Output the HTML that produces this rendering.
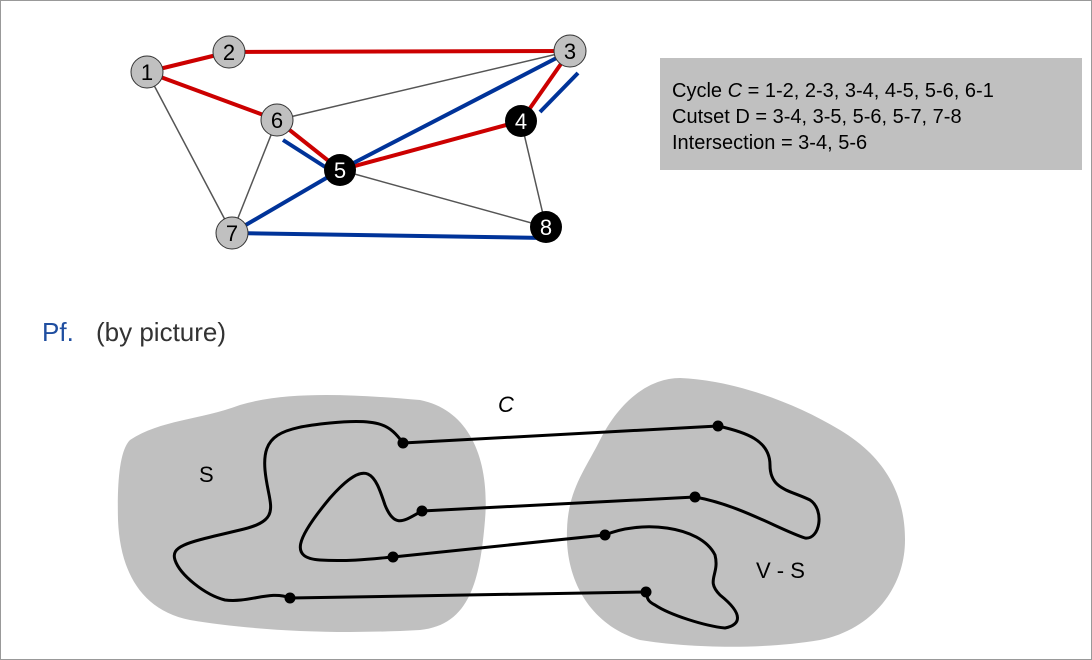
<!DOCTYPE html>
<html><head><meta charset="utf-8"><style>
body{margin:0;width:1092px;height:660px;background:#fff;overflow:hidden}
svg{display:block}
text{font-family:"Liberation Sans",sans-serif}
</style></head><body>
<svg width="1092" height="660">
<rect x="0.5" y="0.5" width="1091" height="659" fill="none" stroke="#999"/>
<g stroke-linecap="butt">
<line x1="147" y1="72" x2="232" y2="233" stroke="#555" stroke-width="1.5"/>
<line x1="277" y1="120" x2="232" y2="233" stroke="#555" stroke-width="1.5"/>
<line x1="277" y1="120" x2="570" y2="51" stroke="#555" stroke-width="1.5"/>
<line x1="340" y1="170" x2="546" y2="227" stroke="#555" stroke-width="1.5"/>
<line x1="521" y1="121" x2="546" y2="227" stroke="#555" stroke-width="1.5"/>
<line x1="147" y1="72" x2="229" y2="52" stroke="#c00" stroke-width="4"/>
<line x1="229" y1="52" x2="570" y2="51" stroke="#c00" stroke-width="4"/>
<line x1="147" y1="72" x2="277" y2="120" stroke="#c00" stroke-width="4"/>
<line x1="277" y1="120" x2="340" y2="170" stroke="#c00" stroke-width="4"/>
<line x1="340" y1="170" x2="521" y2="121" stroke="#c00" stroke-width="4"/>
<line x1="570" y1="51" x2="521" y2="121" stroke="#c00" stroke-width="4"/>
<line x1="283" y1="140" x2="333" y2="172" stroke="#039" stroke-width="4"/>
<line x1="578" y1="73" x2="540" y2="112" stroke="#039" stroke-width="4"/>
<line x1="570" y1="51" x2="340" y2="170" stroke="#039" stroke-width="4"/>
<line x1="340" y1="170" x2="232" y2="233" stroke="#039" stroke-width="4"/>
<line x1="232" y1="233" x2="546" y2="238" stroke="#039" stroke-width="4"/>
</g>
<g font-size="22" text-anchor="middle">
<g><circle cx="147" cy="72" r="16" fill="#c0c0c0" stroke="#333"/><text x="147" y="80">1</text></g>
<g><circle cx="229" cy="52" r="16" fill="#c0c0c0" stroke="#333"/><text x="229" y="60">2</text></g>
<g><circle cx="570" cy="51" r="16" fill="#c0c0c0" stroke="#333"/><text x="570" y="59">3</text></g>
<g><circle cx="277" cy="120" r="16" fill="#c0c0c0" stroke="#333"/><text x="277" y="128">6</text></g>
<g><circle cx="232" cy="233" r="16" fill="#c0c0c0" stroke="#333"/><text x="232" y="241">7</text></g>
<g><circle cx="521" cy="121" r="16" fill="#000"/><text x="521" y="129" fill="#fff">4</text></g>
<g><circle cx="340" cy="170" r="16" fill="#000"/><text x="340" y="178" fill="#fff">5</text></g>
<g><circle cx="546" cy="227" r="16" fill="#000"/><text x="546" y="235" fill="#fff">8</text></g>
</g>
<g>
<rect x="660" y="58" width="422" height="112" fill="#c0c0c0"/>
<text x="672" y="97" font-size="20">Cycle  <tspan font-style="italic">C</tspan> = 1-2, 2-3, 3-4, 4-5, 5-6, 6-1</text>
<text x="672" y="123" font-size="20">Cutset D = 3-4, 3-5, 5-6, 5-7, 7-8</text>
<text x="672" y="149" font-size="20">Intersection = 3-4, 5-6</text>
</g>
<text x="42" y="341" font-size="26" fill="#1f4ea0">Pf.</text>
<text x="96" y="341" font-size="26" fill="#333">(by picture)</text>
<path fill="#c0c0c0" d="M130,440 C160,420 200,420 240,405 C290,390 360,395 420,400 C470,410 490,460 485,520 C480,580 470,625 420,630 C330,635 250,630 190,620 C140,610 120,570 118,520 C117,480 120,450 130,440Z"/>
<path fill="#c0c0c0" d="M600,440 C620,400 650,378 680,378 C730,380 790,400 840,430 C890,460 905,500 905,540 C905,590 870,630 820,640 C760,650 690,648 640,640 C590,625 565,580 567,530 C568,490 585,470 600,440Z"/>
<g fill="none" stroke="#000" stroke-width="3">
<path d="M403,443 C390,425 380,418 330,423 C280,428 262,435 265,470 C268,505 285,520 240,530 C190,542 170,545 175,560 C180,575 205,595 225,600 C250,603 270,590 290,598"/>
<path d="M422,511 C405,520 395,530 385,505 C375,475 368,455 330,498 C295,540 290,558 320,560 C350,562 380,558 393,557"/>
<path d="M718,426 C745,432 770,440 770,465 C770,490 790,490 810,500 C825,510 820,540 805,538 C780,530 740,505 695,497"/>
<path d="M605,535 C640,520 700,525 715,555 C720,575 705,580 720,595 C745,615 740,625 725,628 C705,626 670,615 655,605 C645,600 648,596 646,592"/>
<line x1="403" y1="443" x2="718" y2="426"/>
<line x1="422" y1="511" x2="695" y2="497"/>
<line x1="393" y1="557" x2="605" y2="535"/>
<line x1="290" y1="598" x2="646" y2="592"/>
</g>
<g fill="#000">
<circle cx="403" cy="443" r="5.5"/><circle cx="718" cy="426" r="5.5"/>
<circle cx="422" cy="511" r="5.5"/><circle cx="695" cy="497" r="5.5"/>
<circle cx="393" cy="557" r="5.5"/><circle cx="605" cy="535" r="5.5"/>
<circle cx="290" cy="598" r="5.5"/><circle cx="646" cy="592" r="5.5"/>
</g>
<text x="498" y="412" font-size="22" font-style="italic">C</text>
<text x="199" y="482" font-size="22">S</text>
<text x="756" y="578" font-size="22">V - S</text>
</svg>
</body></html>
